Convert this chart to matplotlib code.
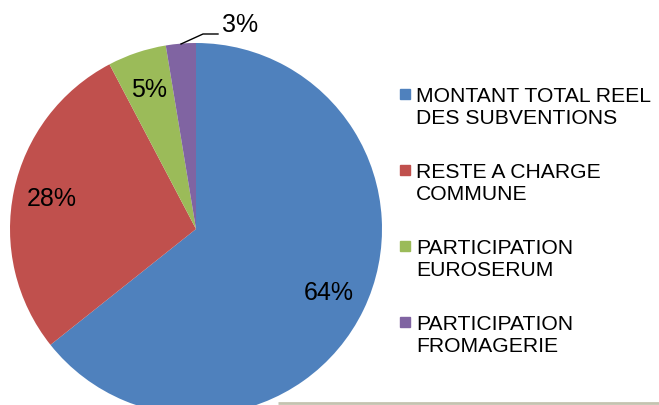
import matplotlib.pyplot as plt
from matplotlib.patches import Rectangle

labels = ["MONTANT TOTAL REEL\nDES SUBVENTIONS", "RESTE A CHARGE\nCOMMUNE",
          "PARTICIPATION\nEUROSERUM", "PARTICIPATION\nFROMAGERIE"]
values = [64.3, 28.0, 5.1, 2.6]
colors = ["#4F81BD", "#C0504D", "#9BBB59", "#8064A2"]

plt.rcParams['font.family'] = ['Liberation Sans', 'DejaVu Sans']

W, H = 659, 405
fig = plt.figure(figsize=(W / 100, H / 100), dpi=100)
ax = fig.add_axes([0, 0, 1, 1])
ax.set_xlim(0, W)
ax.set_ylim(0, H)
ax.set_aspect('equal')
ax.axis('off')

# bottom frame line
ax.plot([278, W], [2, 2], color="#C4C3B0", lw=2, zorder=0, solid_capstyle='butt')

cx, cy, r = 196, 176, 186
wedges, texts, autotexts = ax.pie(values, colors=colors, startangle=90, counterclock=False,
                                  center=(cx, cy), radius=r, autopct='%.0f%%', pctdistance=0.79,
                                  textprops={'fontsize': 18, 'color': 'black'},
                                  wedgeprops={'linewidth': 0})
ax.set_xlim(0, W)
ax.set_ylim(0, H)

# small slice label moved outside with leader line
autotexts[3].set_position((240, 380))
autotexts[3].set_va('center')
autotexts[3].set_ha('center')
ax.plot([181, 203, 218], [361, 371, 371], color='black', lw=1)

# legend
for i, (lab, col) in enumerate(zip(labels, colors)):
    yb = 304 - 76 * i
    ax.add_patch(Rectangle((400, yb + 2), 10, 10, color=col))
    ax.text(416, yb - 23, lab, fontsize=15.2, va='baseline', ha='left', color='black', linespacing=1.2)

fig.savefig("out.png", dpi=100)
